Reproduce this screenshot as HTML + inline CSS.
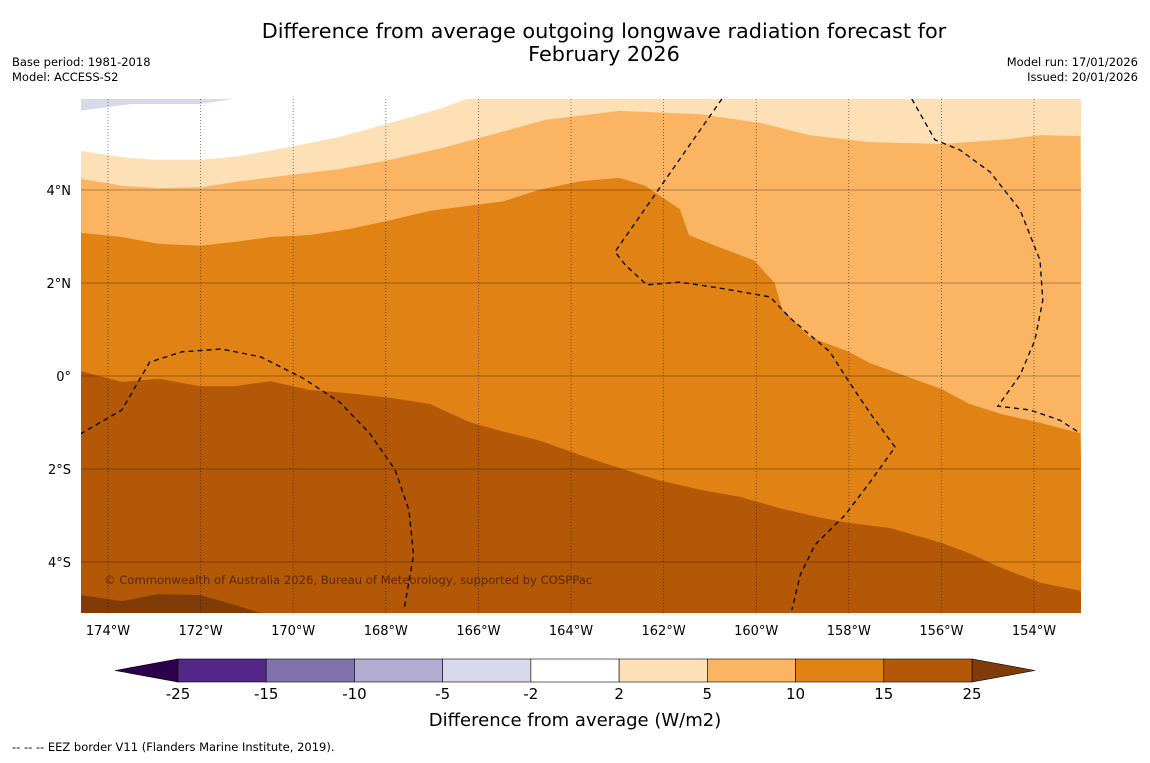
<!DOCTYPE html>
<html><head><meta charset="utf-8"><style>
body{margin:0;background:#fff;width:1150px;height:758px;overflow:hidden;font-family:"Liberation Sans","DejaVu Sans",sans-serif}
svg text{font-family:"DejaVu Sans","Liberation Sans",sans-serif}
</style></head><body>
<svg id="chart" width="1150" height="758" xmlns="http://www.w3.org/2000/svg">
<rect width="1150" height="758" fill="#fff"/>
<text x="604" y="38" font-size="20.8" text-anchor="middle">Difference from average outgoing longwave radiation forecast for</text>
<text x="604" y="61" font-size="20.8" text-anchor="middle">February 2026</text>
<text x="12" y="66" font-size="11.5">Base period: 1981-2018</text>
<text x="12" y="81" font-size="11.5">Model: ACCESS-S2</text>
<text x="1138" y="66" font-size="11.5" text-anchor="end">Model run: 17/01/2026</text>
<text x="1138" y="81" font-size="11.5" text-anchor="end">Issued: 20/01/2026</text>
<defs><clipPath id="mapclip"><rect x="81" y="99" width="1000" height="514"/></clipPath></defs>
<g id="map" clip-path="url(#mapclip)"></g>
<g id="axes"></g>
<g id="cbar"></g>
<text x="575" y="726" font-size="18" text-anchor="middle">Difference from average (W/m2)</text>
<text x="12" y="751" font-size="11.5">--  --  -- EEZ border V11 (Flanders Marine Institute, 2019).</text>
</svg>
<script>
const lonTicks=[-174,-172,-170,-168,-166,-164,-162,-160,-158,-156,-154];
const latTicks=[4,2,0,-2,-4];
const latLabels=["4°N","2°N","0°","2°S","4°S"];
const levels=["-25","-15","-10","-5","-2","2","5","10","15","25"];
const levelColors=["#542788","#8073ac","#b2abd2","#d8daeb","#ffffff","#fde0b6","#fbb562","#e08214","#b35806"];
const lavender=[[-174.6,5.96],[-174.6,5.7],[-173.5,5.85],[-172.0,5.85],[-171.3,5.96]];
const bndA=[[-174.6,4.84],[-173.7,4.71],[-173.0,4.65],[-172.0,4.65],[-171.15,4.73],[-170.1,4.92],[-169.0,5.14],[-167.9,5.44],[-166.8,5.76],[-166.2,5.98]];
const bndB=[[-174.6,4.24],[-173.7,4.09],[-172.9,4.04],[-172.0,4.06],[-171.15,4.19],[-170.1,4.32],[-169.0,4.45],[-167.9,4.65],[-166.8,4.9],[-165.75,5.18],[-164.55,5.51],[-162.95,5.7],[-161.2,5.63],[-159.9,5.44],[-158.85,5.18],[-157.55,5.03],[-156.0,4.99],[-154.7,5.08],[-153.85,5.18],[-153.0,5.16]];
const bndC=[[-174.6,3.08],[-173.7,2.99],[-172.9,2.84],[-172.0,2.8],[-171.15,2.9],[-170.5,2.99],[-169.65,3.03],[-168.8,3.16],[-167.9,3.35],[-167.05,3.55],[-166.2,3.66],[-165.45,3.76],[-164.7,4.0],[-163.8,4.19],[-162.95,4.26],[-162.4,4.09],[-161.65,3.59],[-161.45,3.03],[-160.8,2.77],[-160.05,2.49],[-159.6,2.0],[-159.45,1.46],[-158.85,0.84],[-158.0,0.52],[-157.55,0.28],[-156.0,-0.28],[-155.4,-0.6],[-154.7,-0.82],[-153.85,-1.01],[-153.0,-1.23]];
const bndD=[[-174.6,0.11],[-173.7,-0.13],[-172.9,-0.06],[-172.0,-0.22],[-171.25,-0.22],[-170.5,-0.11],[-169.65,-0.3],[-168.8,-0.37],[-167.9,-0.47],[-167.05,-0.6],[-166.2,-0.99],[-165.45,-1.2],[-164.7,-1.38],[-163.8,-1.7],[-162.95,-1.98],[-162.1,-2.24],[-161.2,-2.45],[-160.35,-2.6],[-159.5,-2.84],[-158.6,-3.05],[-158.0,-3.16],[-157.1,-3.27],[-156.0,-3.59],[-155.4,-3.81],[-154.7,-4.13],[-153.85,-4.45],[-153.0,-4.62]];
const bndE=[[-174.6,-4.71],[-173.7,-4.84],[-172.9,-4.69],[-172.0,-4.71],[-171.25,-4.93],[-170.7,-5.1]];
const eez1=[[-174.6,-1.25],[-173.7,-0.73],[-173.1,0.3],[-172.4,0.52],[-171.55,0.58],[-170.7,0.41],[-169.8,-0.04],[-169.0,-0.56],[-168.35,-1.23],[-167.8,-2.02],[-167.5,-2.88],[-167.4,-3.85],[-167.6,-4.99]];
const eez2=[[-160.74,5.96],[-163.05,2.67],[-162.83,2.39],[-162.36,1.96],[-161.65,2.02],[-160.78,1.89],[-159.7,1.7],[-159.27,1.25],[-158.41,0.52],[-158.02,-0.09],[-157.54,-0.8],[-157.0,-1.53],[-157.54,-2.28],[-158.08,-2.99],[-158.73,-3.63],[-159.05,-4.28],[-159.23,-5.03]];
const eez3=[[-156.64,5.96],[-156.14,5.08],[-155.6,4.86],[-154.95,4.39],[-154.3,3.57],[-153.87,2.49],[-153.81,1.63],[-153.98,0.77],[-154.3,0.02],[-154.78,-0.65],[-154.09,-0.73],[-153.44,-0.95],[-153.05,-1.2]];
const X=lon=>108+(lon+174)*46.3;
const Y=lat=>376-lat*46.5;
const NS="http://www.w3.org/2000/svg";
const L=-174.6,R=-152.9,T=6.0,B=-5.15;
function mk(tag,attrs,parent){const e=document.createElementNS(NS,tag);for(const k in attrs)e.setAttribute(k,attrs[k]);parent.appendChild(e);return e;}
const pts=a=>a.map(p=>X(p[0]).toFixed(1)+","+Y(p[1]).toFixed(1)).join(" ");
const map=document.getElementById('map');
let r=mk('rect',{x:X(L),y:Y(T),width:X(R)-X(L),height:Y(B)-Y(T),fill:'#ffffff'},map);


const bands=[
 ['band-lavender',lavender,[],'#d8daeb'],
 ['band-2-5',bndA,[[R,T],[R,B],[L,B]],'#fde0b6'],
 ['band-5-10',bndB,[[R,B],[L,B]],'#fbb562'],
 ['band-10-15',bndC,[[R,B],[L,B]],'#e08214'],
 ['band-15-25',bndD,[[R,B],[L,B]],'#b35806'],
 ['band-over-25',bndE,[[L,B]],'#7f3b08']];
bands.forEach(b=>{const p=mk('polygon',{points:pts(b[1].concat(b[2])),fill:b[3]},map);

});
latTicks.forEach(v=>{const l=mk('line',{x1:81,x2:1081,y1:Y(v),y2:Y(v),stroke:'#000','stroke-opacity':0.3,'stroke-width':1},map);

});
lonTicks.forEach(v=>{const l=mk('line',{x1:X(v),x2:X(v),y1:99,y2:613,stroke:'#000','stroke-opacity':0.6,'stroke-width':0.8,'stroke-dasharray':'1,2'},map);

});
[eez1,eez2,eez3].forEach(a=>{const p=mk('polyline',{points:pts(a),fill:'none',stroke:'#000','stroke-width':1.3,'stroke-dasharray':'5,4'},map);

});
const cr=mk('text',{x:104,y:584,'font-size':11.6,fill:'#5a2a04'},map);cr.textContent='© Commonwealth of Australia 2026, Bureau of Meteorology, supported by COSPPac';


const ax=document.getElementById('axes');
lonTicks.forEach(v=>{const t=mk('text',{x:X(v),y:635,'font-size':13,'text-anchor':'middle'},ax);t.textContent=Math.abs(v)+'°W';

});
latTicks.forEach((v,i)=>{const t=mk('text',{x:71,y:Y(v)+5,'font-size':13,'text-anchor':'end'},ax);t.textContent=latLabels[i];

});
const cb=document.getElementById('cbar');
const x0=178,x1=972,w=(x1-x0)/levelColors.length;
let tri=mk('polygon',{points:`115,670.5 ${x0},659 ${x0},682`,fill:'#2d004b',stroke:'#000','stroke-width':0.6},cb);


tri=mk('polygon',{points:`1035,670.5 ${x1},659 ${x1},682`,fill:'#7f3b08',stroke:'#000','stroke-width':0.6},cb);


levelColors.forEach((c,i)=>{const s=mk('rect',{x:x0+i*w,y:659,width:w,height:23,fill:c,stroke:'#000','stroke-width':0.6},cb);

});
levels.forEach((v,i)=>{const t=mk('text',{x:x0+i*w,y:699,'font-size':15,'text-anchor':'middle'},cb);t.textContent=v;

});
</script>
</body></html>
